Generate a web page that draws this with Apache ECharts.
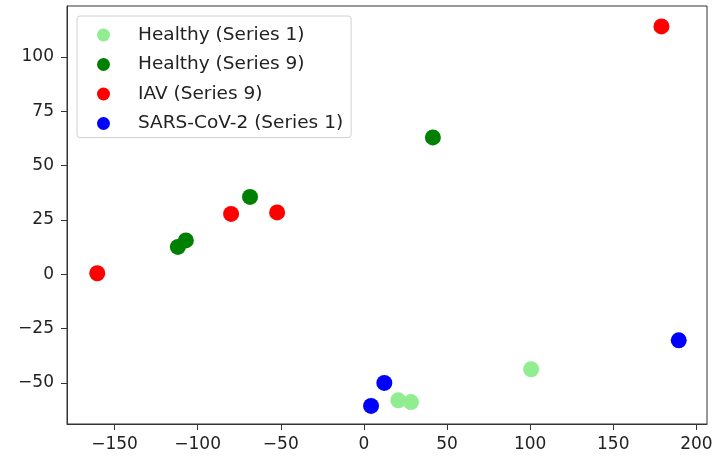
<!DOCTYPE html>
<html>
<head>
<meta charset="utf-8">
<script src="https://cdn.jsdelivr.net/npm/echarts@6/dist/echarts.min.js"></script>
<style>
  html, body { margin: 0; padding: 0; background: #fff; }
  #main { width: 713px; height: 459px; }
</style>
</head>
<body>
<div id="main"></div>
<script>
// data
const seriesNames = ['Healthy (Series 1)', 'Healthy (Series 9)', 'IAV (Series 9)', 'SARS-CoV-2 (Series 1)'];
const seriesColors = ['#90ee90', '#008000', '#ff0000', '#0000ff'];

const healthy1 = [[20.7, -58.0], [28.3, -58.8], [100.6, -43.7]];
const healthy9 = [[41.5, 63.0], [-68.5, 35.6], [-107.1, 15.6], [-111.9, 12.6]];
const iav9 = [[179.0, 114.1], [-160.4, 0.5], [-79.9, 27.8], [-52.2, 28.5]];
const sars1 = [[12.3, -50.0], [4.3, -60.6], [189.4, -30.4]];

const xTicks = [-150, -100, -50, 0, 50, 100, 150, 200];
const yTicks = [-50, -25, 0, 25, 50, 75, 100];

const allData = [healthy1, healthy9, iav9, sars1];

const fontName = 'DejaVu Sans';

function minusSign(v) {
    return String(v).replace('-', '\u2212');
}

const option = {
    animation: false,
    backgroundColor: '#fff',
    grid: {
        left: 67,
        right: 6,
        top: 6,
        bottom: 35,
        outerBoundsMode: 'none',
        containLabel: false,
        show: true,
        borderColor: '#333',
        borderWidth: 1
    },
    legend: {
        orient: 'vertical',
        left: 77,
        top: 16,
        data: seriesNames,
        icon: 'circle',
        itemWidth: 13,
        itemHeight: 13,
        itemGap: 9.5,
        padding: [9, 8, 4, 20],
        borderColor: '#d0d0d0',
        borderWidth: 1,
        borderRadius: 3,
        backgroundColor: 'rgba(255,255,255,0.8)',
        textStyle: {
            fontFamily: fontName,
            fontSize: 18.5,
            lineHeight: 20,
            color: '#222',
            padding: [0, 0, 0, 23]
        }
    },
    xAxis: {
        type: 'value',
        min: -178.6,
        max: 206.4,
        splitLine: { show: false },
        axisLine: { onZero: false, lineStyle: { color: '#333' } },
        axisTick: { show: true, length: 6, customValues: xTicks, lineStyle: { color: '#333' } },
        axisLabel: {
            customValues: xTicks,
            formatter: minusSign,
            fontFamily: fontName,
            fontSize: 17,
            color: '#222',
            margin: 12
        }
    },
    yAxis: {
        type: 'value',
        min: -68.9,
        max: 123.5,
        splitLine: { show: false },
        axisLine: { show: true, onZero: false, lineStyle: { color: '#333' } },
        axisTick: { show: true, length: 6, customValues: yTicks, lineStyle: { color: '#333' } },
        axisLabel: {
            customValues: yTicks,
            formatter: minusSign,
            fontFamily: fontName,
            fontSize: 17,
            color: '#222',
            margin: 13
        }
    },
    series: seriesNames.map((name, i) => ({
        name: name,
        type: 'scatter',
        symbol: 'circle',
        symbolSize: 16,
        itemStyle: { color: seriesColors[i], opacity: 1 },
        data: allData[i]
    }))
};

let plot = echarts.init(document.querySelector('#main'));
plot.setOption(option);
</script>
</body>
</html>
